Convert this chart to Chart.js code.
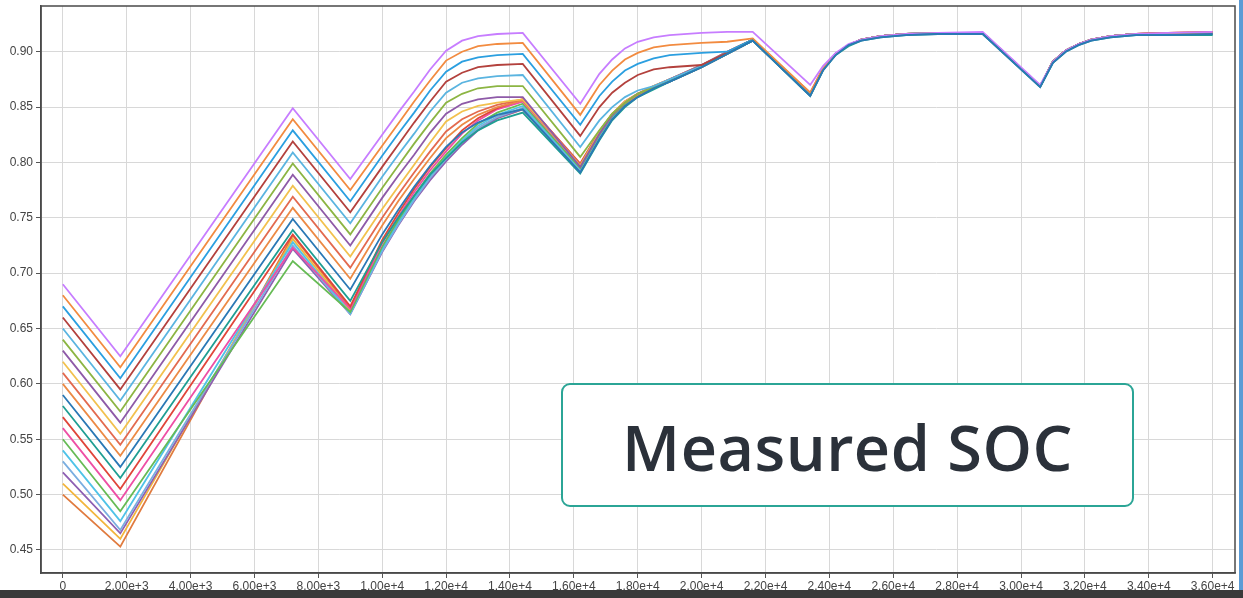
<!DOCTYPE html>
<html>
<head>
<meta charset="utf-8">
<script src="https://cdn.jsdelivr.net/npm/chart.js@4.4.1/dist/chart.umd.min.js"></script>
<style>
  html, body { margin: 0; padding: 0; background: #fff; }
  #wrap { position: relative; width: 1243px; height: 598px; overflow: hidden; background: #fff; }
  #c { position: absolute; left: 0; top: 0; }
  #label {
    position: absolute; left: 561px; top: 383px; width: 573px; height: 124px;
    box-sizing: border-box; border: 2.5px solid #2ba596; border-radius: 9px; background: #fff;
    display: flex; align-items: center; justify-content: center;
    font-family: "Open Sans", sans-serif; font-weight: 600; font-size: 63px; color: #2b313a;
    letter-spacing: 0.5px; padding-top: 2px;
  }
  #strip { position: absolute; left: 0; top: 590px; width: 1243px; height: 8px; background: #3a3a3a; }
  #edge { position: absolute; right: 0; top: 0; width: 4px; height: 590px; background: #5b9bd5; }
</style>
</head>
<body>
<div id="wrap">
  <canvas id="c" width="1243" height="598"></canvas>
  <div id="label">Measured SOC</div>
  <div id="strip"></div>
  <div id="edge"></div>
</div>
<script>
// Sample times in seconds (shared by every SOC trace)
const timeSec = [0, 1800, 7200,
  9000, 10000, 10500, 11000, 11500, 12000, 12500, 13000, 13600, 14400,
  16200, 16800, 17200, 17600, 18000, 18500, 19000, 20000, 20800, 21600,
  23400, 23800, 24200, 24600, 25000, 25600, 26400, 27400, 28800,
  30600, 31000, 31400, 31800, 32200, 32800, 33600, 34600, 36000];

// Measured state of charge, one trace per initial SOC
const soc069 = [0.690, 0.625, 0.849,
  0.785, 0.825, 0.845, 0.864, 0.884, 0.901, 0.910, 0.914, 0.916, 0.917,
  0.853, 0.880, 0.893, 0.903, 0.909, 0.913, 0.915, 0.917, 0.918, 0.918,
  0.870, 0.887, 0.899, 0.907, 0.911, 0.914, 0.916, 0.917, 0.918,
  0.870, 0.891, 0.901, 0.907, 0.911, 0.914, 0.916, 0.917, 0.918];
const soc068 = [0.680, 0.615, 0.839,
  0.775, 0.815, 0.835, 0.855, 0.874, 0.892, 0.900, 0.905, 0.907, 0.908,
  0.843, 0.870, 0.883, 0.893, 0.899, 0.904, 0.906, 0.908, 0.909, 0.912,
  0.863, 0.885, 0.898, 0.906, 0.911, 0.914, 0.916, 0.917, 0.917,
  0.869, 0.891, 0.901, 0.907, 0.911, 0.914, 0.916, 0.917, 0.917];
const soc067 = [0.670, 0.605, 0.829,
  0.765, 0.806, 0.826, 0.845, 0.865, 0.882, 0.891, 0.895, 0.897, 0.898,
  0.834, 0.860, 0.873, 0.883, 0.889, 0.894, 0.897, 0.899, 0.900, 0.911,
  0.862, 0.884, 0.898, 0.906, 0.911, 0.914, 0.916, 0.917, 0.917,
  0.869, 0.891, 0.901, 0.907, 0.911, 0.914, 0.916, 0.916, 0.917];
const soc066 = [0.660, 0.595, 0.819,
  0.755, 0.796, 0.816, 0.836, 0.855, 0.873, 0.881, 0.886, 0.888, 0.889,
  0.824, 0.850, 0.863, 0.872, 0.879, 0.884, 0.886, 0.888, 0.899, 0.911,
  0.862, 0.884, 0.898, 0.906, 0.911, 0.914, 0.916, 0.916, 0.917,
  0.869, 0.891, 0.901, 0.907, 0.911, 0.914, 0.916, 0.917, 0.917];
const soc065 = [0.650, 0.585, 0.809,
  0.745, 0.787, 0.807, 0.826, 0.846, 0.863, 0.872, 0.876, 0.878, 0.879,
  0.814, 0.838, 0.850, 0.859, 0.865, 0.869, 0.875, 0.887, 0.899, 0.911,
  0.861, 0.884, 0.898, 0.906, 0.911, 0.914, 0.916, 0.917, 0.917,
  0.869, 0.891, 0.901, 0.907, 0.911, 0.914, 0.916, 0.916, 0.917];
const soc064 = [0.640, 0.575, 0.799,
  0.735, 0.777, 0.797, 0.817, 0.836, 0.854, 0.862, 0.867, 0.869, 0.869,
  0.805, 0.829, 0.844, 0.854, 0.862, 0.868, 0.874, 0.887, 0.899, 0.911,
  0.861, 0.884, 0.898, 0.906, 0.911, 0.914, 0.916, 0.917, 0.917,
  0.869, 0.891, 0.901, 0.907, 0.911, 0.914, 0.916, 0.916, 0.916];
const soc063 = [0.630, 0.565, 0.789,
  0.725, 0.768, 0.788, 0.807, 0.827, 0.844, 0.853, 0.857, 0.859, 0.859,
  0.796, 0.826, 0.843, 0.854, 0.862, 0.868, 0.875, 0.888, 0.900, 0.911,
  0.861, 0.884, 0.898, 0.906, 0.911, 0.914, 0.916, 0.917, 0.917,
  0.869, 0.891, 0.901, 0.907, 0.911, 0.914, 0.916, 0.917, 0.917];
const soc062 = [0.620, 0.555, 0.779,
  0.715, 0.758, 0.778, 0.798, 0.818, 0.837, 0.846, 0.851, 0.854, 0.857,
  0.797, 0.827, 0.844, 0.855, 0.862, 0.869, 0.875, 0.888, 0.900, 0.911,
  0.861, 0.884, 0.898, 0.906, 0.911, 0.914, 0.916, 0.917, 0.917,
  0.869, 0.891, 0.901, 0.907, 0.911, 0.914, 0.916, 0.916, 0.916];
const soc061 = [0.610, 0.545, 0.769,
  0.705, 0.750, 0.771, 0.791, 0.810, 0.828, 0.839, 0.846, 0.852, 0.857,
  0.798, 0.828, 0.844, 0.855, 0.862, 0.869, 0.875, 0.887, 0.899, 0.911,
  0.861, 0.884, 0.898, 0.906, 0.911, 0.914, 0.916, 0.917, 0.917,
  0.869, 0.891, 0.901, 0.907, 0.911, 0.914, 0.916, 0.917, 0.918];
const soc060 = [0.600, 0.535, 0.759,
  0.695, 0.743, 0.765, 0.785, 0.804, 0.822, 0.834, 0.843, 0.850, 0.856,
  0.797, 0.827, 0.843, 0.854, 0.861, 0.868, 0.874, 0.887, 0.899, 0.911,
  0.861, 0.884, 0.898, 0.906, 0.911, 0.914, 0.916, 0.916, 0.917,
  0.869, 0.891, 0.901, 0.907, 0.911, 0.914, 0.916, 0.916, 0.917];
const soc059 = [0.590, 0.525, 0.749,
  0.685, 0.735, 0.757, 0.778, 0.797, 0.814, 0.827, 0.836, 0.843, 0.848,
  0.791, 0.821, 0.839, 0.851, 0.859, 0.867, 0.873, 0.886, 0.898, 0.910,
  0.860, 0.883, 0.897, 0.906, 0.910, 0.913, 0.915, 0.916, 0.916,
  0.868, 0.890, 0.900, 0.906, 0.910, 0.913, 0.915, 0.915, 0.916];
const soc058 = [0.580, 0.515, 0.739,
  0.675, 0.728, 0.750, 0.770, 0.789, 0.804, 0.818, 0.829, 0.838, 0.845,
  0.790, 0.820, 0.838, 0.850, 0.859, 0.866, 0.873, 0.886, 0.898, 0.910,
  0.860, 0.883, 0.897, 0.905, 0.910, 0.913, 0.915, 0.916, 0.916,
  0.868, 0.890, 0.900, 0.906, 0.910, 0.913, 0.915, 0.915, 0.915];
const soc057 = [0.570, 0.505, 0.735,
  0.670, 0.730, 0.754, 0.776, 0.796, 0.813, 0.829, 0.840, 0.849, 0.857,
  0.799, 0.828, 0.844, 0.855, 0.862, 0.869, 0.875, 0.888, 0.900, 0.911,
  0.861, 0.884, 0.898, 0.906, 0.911, 0.914, 0.916, 0.917, 0.917,
  0.869, 0.891, 0.901, 0.907, 0.911, 0.914, 0.916, 0.917, 0.918];
const soc056 = [0.560, 0.495, 0.723,
  0.668, 0.727, 0.751, 0.773, 0.793, 0.810, 0.826, 0.838, 0.848, 0.855,
  0.797, 0.826, 0.843, 0.854, 0.861, 0.868, 0.874, 0.887, 0.899, 0.911,
  0.863, 0.885, 0.898, 0.906, 0.911, 0.914, 0.916, 0.917, 0.917,
  0.869, 0.891, 0.901, 0.907, 0.911, 0.914, 0.916, 0.916, 0.917];
const soc055 = [0.550, 0.485, 0.711,
  0.665, 0.724, 0.748, 0.770, 0.790, 0.807, 0.822, 0.835, 0.845, 0.853,
  0.795, 0.825, 0.842, 0.853, 0.861, 0.868, 0.874, 0.887, 0.899, 0.911,
  0.861, 0.884, 0.898, 0.906, 0.911, 0.914, 0.916, 0.917, 0.917,
  0.869, 0.891, 0.901, 0.907, 0.911, 0.914, 0.916, 0.916, 0.917];
const soc054 = [0.540, 0.476, 0.728,
  0.664, 0.722, 0.746, 0.768, 0.788, 0.805, 0.820, 0.833, 0.843, 0.851,
  0.794, 0.824, 0.841, 0.853, 0.860, 0.867, 0.874, 0.887, 0.899, 0.910,
  0.861, 0.884, 0.898, 0.906, 0.911, 0.914, 0.916, 0.916, 0.917,
  0.869, 0.891, 0.901, 0.907, 0.911, 0.914, 0.916, 0.916, 0.917];
const soc053 = [0.530, 0.468, 0.725,
  0.663, 0.720, 0.744, 0.766, 0.786, 0.803, 0.818, 0.831, 0.841, 0.849,
  0.793, 0.823, 0.841, 0.852, 0.860, 0.867, 0.873, 0.886, 0.898, 0.910,
  0.861, 0.884, 0.898, 0.906, 0.911, 0.914, 0.916, 0.916, 0.917,
  0.869, 0.891, 0.901, 0.907, 0.911, 0.914, 0.916, 0.916, 0.917];
const soc052 = [0.520, 0.465, 0.722,
  0.663, 0.719, 0.743, 0.765, 0.784, 0.801, 0.816, 0.829, 0.840, 0.848,
  0.792, 0.822, 0.840, 0.852, 0.860, 0.867, 0.873, 0.886, 0.898, 0.910,
  0.861, 0.884, 0.898, 0.906, 0.911, 0.914, 0.916, 0.916, 0.917,
  0.869, 0.891, 0.901, 0.907, 0.911, 0.914, 0.916, 0.916, 0.917];
const soc051 = [0.510, 0.460, 0.731,
  0.666, 0.721, 0.745, 0.766, 0.785, 0.802, 0.817, 0.830, 0.840, 0.848,
  0.792, 0.822, 0.840, 0.852, 0.860, 0.867, 0.873, 0.886, 0.898, 0.910,
  0.861, 0.884, 0.898, 0.906, 0.911, 0.914, 0.916, 0.916, 0.917,
  0.869, 0.891, 0.901, 0.907, 0.911, 0.914, 0.916, 0.916, 0.917];
const soc050 = [0.500, 0.453, 0.734,
  0.668, 0.723, 0.747, 0.768, 0.787, 0.804, 0.819, 0.831, 0.841, 0.849,
  0.793, 0.823, 0.841, 0.852, 0.860, 0.867, 0.873, 0.886, 0.898, 0.910,
  0.861, 0.884, 0.898, 0.906, 0.911, 0.914, 0.916, 0.916, 0.917,
  0.869, 0.891, 0.901, 0.907, 0.911, 0.914, 0.916, 0.916, 0.916];

// Axis tick positions
const xTickValues = [0, 2000, 4000, 6000, 8000, 10000, 12000, 14000, 16000, 18000,
  20000, 22000, 24000, 26000, 28000, 30000, 32000, 34000, 36000];
const yTickValues = [0.45, 0.50, 0.55, 0.60, 0.65, 0.70, 0.75, 0.80, 0.85, 0.90];

// Traces in legend order, with their line colours
const traces = [
  { name: 'SOC0 = 0.69', values: soc069 },
  { name: 'SOC0 = 0.68', values: soc068 },
  { name: 'SOC0 = 0.67', values: soc067 },
  { name: 'SOC0 = 0.66', values: soc066 },
  { name: 'SOC0 = 0.65', values: soc065 },
  { name: 'SOC0 = 0.64', values: soc064 },
  { name: 'SOC0 = 0.63', values: soc063 },
  { name: 'SOC0 = 0.62', values: soc062 },
  { name: 'SOC0 = 0.61', values: soc061 },
  { name: 'SOC0 = 0.60', values: soc060 },
  { name: 'SOC0 = 0.59', values: soc059 },
  { name: 'SOC0 = 0.58', values: soc058 },
  { name: 'SOC0 = 0.57', values: soc057 },
  { name: 'SOC0 = 0.56', values: soc056 },
  { name: 'SOC0 = 0.55', values: soc055 },
  { name: 'SOC0 = 0.54', values: soc054 },
  { name: 'SOC0 = 0.53', values: soc053 },
  { name: 'SOC0 = 0.52', values: soc052 },
  { name: 'SOC0 = 0.51', values: soc051 },
  { name: 'SOC0 = 0.50', values: soc050 }
];
const lineColors = ['#c77dff', '#f28b40', '#2b9fe0', '#b3413d', '#5ab4e0', '#8cb543', '#8e5aa8',
  '#f2c14e', '#e36a4f', '#ec8a45', '#2a78b5', '#1f9e93', '#e0453a', '#ee4fa5', '#66bb55',
  '#4fc3e8', '#7aaee0', '#8e5fb3', '#f2b53d', '#e07b3f'];
// the two blue/teal traces are painted last so they sit on top of the bundle
const drawOrder = [2, 3, 4, 5, 6, 7, 8, 9, 10, 11, 0, 1, 12, 13, 14, 15, 16, 17, 18, 19];

const datasets = traces.map((tr, i) => ({
  label: tr.name,
  data: timeSec.map((t, k) => ({ x: t, y: tr.values[k] })),
  borderColor: lineColors[i],
  backgroundColor: lineColors[i],
  borderWidth: 1.8,
  pointRadius: 0,
  tension: 0,
  fill: false,
  order: drawOrder[i]
}));

// Dark frame around the plotting area
const frameBox = {
  id: 'frameBox',
  afterDraw(chart) {
    const { ctx, chartArea: a } = chart;
    ctx.save();
    ctx.strokeStyle = '#4a4a4a';
    ctx.lineWidth = 1.5;
    ctx.strokeRect(a.left, a.top, a.right - a.left, a.bottom - a.top);
    ctx.restore();
  }
};

const tickFont = { family: 'Liberation Sans, Arial, sans-serif', size: 12 };

new Chart(document.getElementById('c'), {
  type: 'line',
  data: { datasets },
  options: {
    responsive: false,
    animation: false,
    devicePixelRatio: 1,
    layout: { padding: { left: 0, top: 6, right: 8, bottom: 0 } },
    plugins: { legend: { display: false }, tooltip: { enabled: false } },
    scales: {
      x: {
        type: 'linear',
        min: -683,
        max: 36700,
        afterBuildTicks: s => { s.ticks = xTickValues.map(v => ({ value: v })); },
        afterFit: s => { s.height = 25; s.paddingLeft = 0; s.paddingRight = 0; },
        ticks: {
          font: tickFont, color: '#444', padding: 1, maxRotation: 0, autoSkip: false,
          callback: v => (v === 0 ? '0' : Number(v).toExponential(2))
        },
        grid: { color: '#d8d8d8', lineWidth: 1, tickColor: '#555', tickLength: 5 },
        border: { color: '#4a4a4a', width: 1.5 }
      },
      y: {
        type: 'linear',
        min: 0.4292,
        max: 0.9413,
        afterBuildTicks: s => { s.ticks = yTickValues.map(v => ({ value: v })); },
        afterFit: s => { s.width = 41; s.paddingTop = 0; s.paddingBottom = 0; },
        ticks: {
          font: tickFont, color: '#444', padding: 3,
          callback: v => Number(v).toFixed(2)
        },
        grid: { color: '#d8d8d8', lineWidth: 1, tickColor: '#555', tickLength: 5 },
        border: { color: '#4a4a4a', width: 1.5 }
      }
    }
  },
  plugins: [frameBox]
});
</script>
</body>
</html>
